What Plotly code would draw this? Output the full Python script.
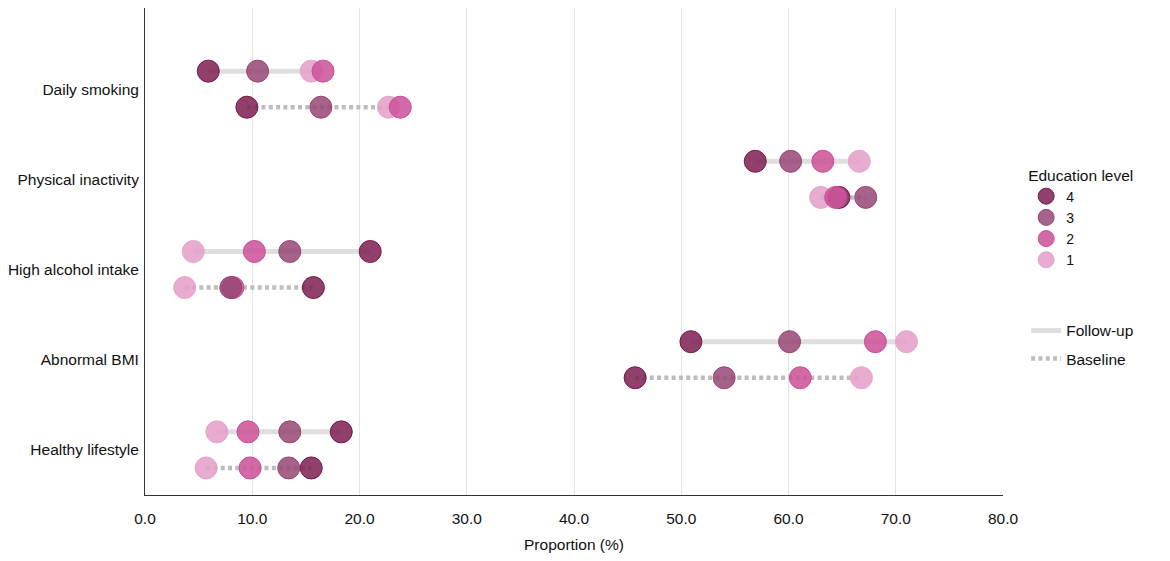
import plotly.graph_objects as go

# categories top to bottom
categories = ["Daily smoking", "Physical inactivity", "High alcohol intake",
              "Abnormal BMI", "Healthy lifestyle"]

# proportion (%) at follow-up by education level
follow_4 = [5.9, 56.9, 21.0, 50.9, 18.3]
follow_3 = [10.5, 60.2, 13.5, 60.1, 13.5]
follow_2 = [16.6, 63.2, 10.2, 68.1, 9.6]
follow_1 = [15.5, 66.6, 4.5, 71.0, 6.7]

# proportion (%) at baseline by education level
base_4 = [9.5, 64.7, 15.7, 45.7, 15.5]
base_3 = [16.4, 67.2, 8.0, 54.0, 13.4]
base_2 = [23.8, 64.4, 8.2, 61.1, 9.8]
base_1 = [22.7, 63.0, 3.7, 66.8, 5.7]

levels = ["4", "3", "2", "1"]
follow = {"4": follow_4, "3": follow_3, "2": follow_2, "1": follow_1}
base = {"4": base_4, "3": base_3, "2": base_2, "1": base_1}

fills = {"4": "rgba(125,30,80,0.85)", "3": "rgba(150,70,115,0.85)",
         "2": "rgba(205,85,155,0.88)", "1": "rgba(228,160,200,0.88)"}
edges = {"4": "#731a49", "3": "#944672", "2": "#c94e94", "1": "#e4a4ca"}

off = 0.2
y_follow = [i - off for i in range(len(categories))]
y_base = [i + off for i in range(len(categories))]

fig = go.Figure()

# connecting lines from lowest to highest value in each row
def span(vals_by_level, ys):
    xs, yy = [], []
    for i, y in enumerate(ys):
        v = [vals_by_level[k][i] for k in levels]
        xs += [min(v), max(v), None]
        yy += [y, y, None]
    return xs, yy

fx, fy = span(follow, y_follow)
bx, by = span(base, y_base)

fig.add_trace(go.Scatter(x=fx, y=fy, mode="lines", name="Follow-up",
                         line=dict(color="#dedede", width=5),
                         legend="legend2", legendgroup="f", hoverinfo="skip"))
fig.add_trace(go.Scatter(x=bx, y=by, mode="lines", name="Baseline",
                         line=dict(color="#bdbdbd", width=4.5, dash="4px,3.3px"),
                         legend="legend2", legendgroup="b", hoverinfo="skip"))

# draw order picked so overlapping circles stack like the original
for k in ["1", "4", "2", "3"]:
    fig.add_trace(go.Scatter(
        x=follow[k] + base[k], y=y_follow + y_base, mode="markers", name=k,
        marker=dict(size=22, color=fills[k], line=dict(color=edges[k], width=1)),
        showlegend=False))

# legend entries in 4..1 order
for k in levels:
    fig.add_trace(go.Scatter(
        x=[None], y=[None], mode="markers", name=k,
        marker=dict(size=22, color=fills[k], line=dict(color=edges[k], width=1)),
        legend="legend"))

font = "Liberation Sans, Arial, sans-serif"

# page has an 8px body margin, so the figure is a bit smaller than the window
fig.update_layout(
    width=1154, height=545,
    margin=dict(l=136, r=159, t=0, b=51),
    plot_bgcolor="white", paper_bgcolor="white",
    font=dict(family=font, size=15.5, color="#111"),
    legend=dict(title=dict(text="Education level", font=dict(size=15.5)),
                x=1.027, xanchor="left", y=0.687, yanchor="top",
                tracegroupgap=0, font=dict(size=14)),
    legend2=dict(x=1.027, xanchor="left", y=0.372, yanchor="top",
                 traceorder="grouped", tracegroupgap=5, font=dict(size=15.5)),
    xaxis=dict(range=[0, 80], tickvals=[0, 10, 20, 30, 40, 50, 60, 70, 80],
               ticktext=["0.0", "10.0", "20.0", "30.0", "40.0", "50.0", "60.0", "70.0", "80.0"],
               ticks="outside", ticklen=9, tickcolor="rgba(0,0,0,0)",
               showgrid=True, gridcolor="#e5e5e5", gridwidth=1, zeroline=False,
               showline=True, linecolor="#333", linewidth=1,
               title=dict(text="Proportion (%)", font=dict(size=15.5), standoff=16)),
    yaxis=dict(range=[4.5, -0.9], tickvals=list(range(len(categories))),
               ticktext=categories, showgrid=False, zeroline=False,
               ticks="outside", ticklen=2, tickcolor="rgba(0,0,0,0)",
               showline=True, linecolor="#333", linewidth=1),
)

fig.write_html("out.html")
